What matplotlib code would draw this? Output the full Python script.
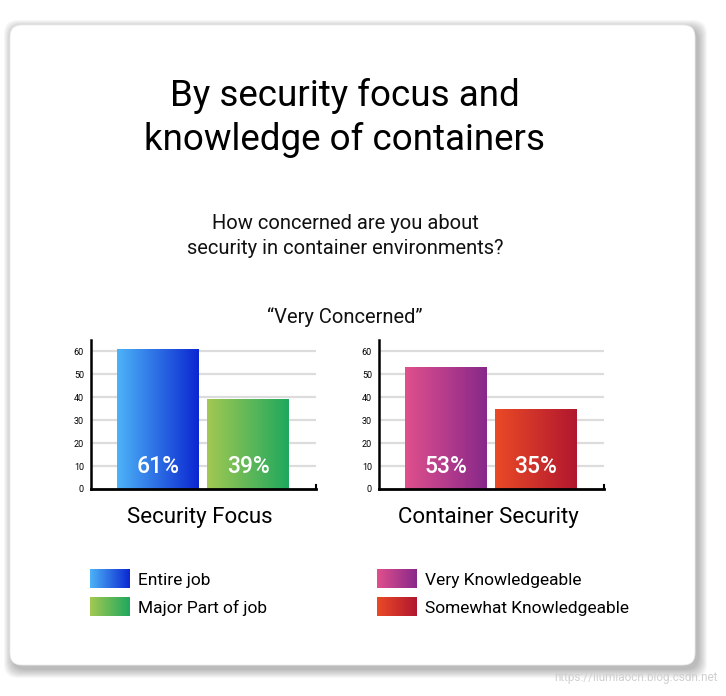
import numpy as np
import matplotlib
matplotlib.use("Agg")
from matplotlib import pyplot as plt
from matplotlib.colors import LinearSegmentedColormap
from matplotlib.patches import FancyBboxPatch

plt.rcParams['font.family'] = ['Roboto', 'DejaVu Sans']

W, H = 726, 696

titel = "By security focus and\nknowledge of containers"
pytanie = "How concerned are you about\nsecurity in container environments?"
podtytul = "\u201cVery Concerned\u201d"

grupy = ["Security Focus", "Container Security"]
serie = [["Entire job", "Major Part of job"],
         ["Very Knowledgeable", "Somewhat Knowledgeable"]]
wartosci = [[61, 39], [53, 35]]
etykiety = [["61%", "39%"], ["53%", "35%"]]
yticks = [0, 10, 20, 30, 40, 50, 60]

# gradient kolory (lewo -> prawo)
gradienty = [[("#4db3f7", "#0b27d1"), ("#a3c852", "#1fa85e")],
             [("#e0508c", "#88288a"), ("#ea4a26", "#b1172f")]]


def px(x, y, w, h):
    # prostokat w pikselach (od gory) -> wspolrzedne figury
    return [x / W, 1 - (y + h) / H, w / W, h / H]


fig = plt.figure(figsize=(W / 100, H / 100), dpi=100)
fig.patch.set_facecolor("white")

# karta z cieniem
tlo = fig.add_axes([0, 0, 1, 1])
tlo.set_xlim(0, W)
tlo.set_ylim(H, 0)
tlo.axis("off")
for i in range(9, 0, -1):
    tlo.add_patch(FancyBboxPatch((10 + 3, 25 + 4), 685, 640,
                                 boxstyle="round,pad=%d,rounding_size=14" % i,
                                 fc="black", ec="none", alpha=0.03))
tlo.add_patch(FancyBboxPatch((10, 25), 685, 640,
                             boxstyle="round,pad=0,rounding_size=12",
                             fc="white", ec="#ececec", lw=0.6))

tlo.text(345, 118, titel, ha="center", va="center", fontsize=26.5,
         linespacing=1.27, color="black")
tlo.text(345, 236, pytanie, ha="center", va="center", fontsize=14.5,
         linespacing=1.45, color="#111111")
tlo.text(345, 317, podtytul, ha="center", va="center", fontsize=14.5,
         color="#111111")
tlo.text(718, 678, "https://liumiaocn.blog.csdn.net", ha="right", va="center",
         fontsize=8.5, color="#d0d0d0")

szer = 0.911
lewe = [91, 379]
for g in range(2):
    ax = fig.add_axes(px(lewe[g], 340, 225, 149))
    ax.set_facecolor("none")
    for y in yticks[1:]:
        ax.axhline(y, color="#dcdcdc", lw=1.6, zorder=0)
    bary = ax.bar([0, 1], wartosci[g], width=szer, color="none", zorder=2)
    for i, b in enumerate(bary):
        cm = LinearSegmentedColormap.from_list("g", gradienty[g][i])
        x0 = b.get_x()
        im = ax.imshow(np.linspace(0, 1, 256).reshape(1, -1), cmap=cm,
                       extent=[x0, x0 + szer, 0, wartosci[g][i]],
                       aspect="auto", zorder=2)
        im.set_clip_path(b)
        ax.text(i, 10, etykiety[g][i], ha="center", va="center",
                fontsize=16.5, color="white", fontweight="medium", zorder=3)
    ax.set_xlim(-0.745, 1.755)
    ax.set_ylim(0, 64.8)
    ax.set_yticks(yticks)
    ax.set_xticks([])
    ax.tick_params(axis="y", length=0, labelsize=6.5, pad=5)
    for s in ["top", "right"]:
        ax.spines[s].set_visible(False)
    ax.spines["left"].set_linewidth(1.8)
    ax.spines["bottom"].set_linewidth(2)
    ax.plot([1, 1], [0, 0.03], transform=ax.transAxes, color="black",
            lw=1.5, clip_on=False)
    srodek = lewe[g] + 109
    tlo.text(srodek, 517, grupy[g], ha="center", va="center", fontsize=16,
             color="black")

# legenda
leg_x = [90, 377]
leg_y = [569, 597]
for g in range(2):
    for i in range(2):
        sax = fig.add_axes(px(leg_x[g], leg_y[i], 40, 19))
        cm = LinearSegmentedColormap.from_list("g", gradienty[g][i])
        sax.imshow(np.linspace(0, 1, 256).reshape(1, -1), cmap=cm,
                   aspect="auto")
        sax.axis("off")
        tlo.text(leg_x[g] + 48, leg_y[i] + 11, serie[g][i], ha="left",
                 va="center", fontsize=12.5, color="black")

fig.savefig("out.png", dpi=100)
